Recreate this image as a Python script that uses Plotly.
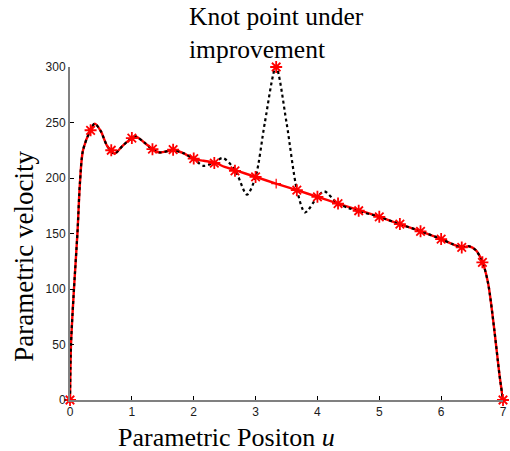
import plotly.graph_objects as go

# Dotted curve (knot point under improvement)
dot_u = [0.0, 0.016, 0.064, 0.12, 0.16, 0.21, 0.33, 0.40, 0.50, 0.60, 0.72, 0.85, 1.0, 1.06,
         1.2, 1.33, 1.45, 1.67, 1.85, 2.0, 2.16, 2.33, 2.47, 2.67, 2.86, 3.0, 3.15, 3.33, 3.5,
         3.67, 3.80, 4.0, 4.11, 4.33, 4.5, 4.67, 5.0, 5.33, 5.67, 6.0, 6.2, 6.33, 6.45, 6.56,
         6.67, 6.76, 6.86, 6.94, 7.0]
dot_v = [0, 50, 100, 150, 195, 225, 243, 249, 242, 229, 222, 229, 236, 237.5,
         232, 226, 223, 225, 222, 217, 211, 214, 218, 207, 185, 201, 250, 300, 250,
         189, 169, 183, 188, 177, 173, 170, 165, 158.5, 152, 145, 140, 137.5, 138.5, 135,
         124, 105, 63, 24, 0]

# Red improved curve
red_u = [0.0, 0.016, 0.064, 0.12, 0.16, 0.21, 0.33, 0.40, 0.50, 0.60, 0.72, 0.85, 1.0, 1.06,
         1.2, 1.33, 1.45, 1.67, 1.85, 2.0, 2.16, 2.33, 2.5, 2.67, 3.0, 3.33, 3.67, 4.0, 4.33,
         4.67, 5.0, 5.33, 5.67, 6.0, 6.2, 6.33, 6.45, 6.56, 6.67, 6.76, 6.86, 6.94, 7.0]
red_v = [0, 50, 100, 150, 195, 225, 243, 249, 242, 229, 222, 229, 236, 237.5,
         232, 226, 223, 225, 222, 217, 215.5, 214, 210, 207, 201, 195, 189, 183, 177,
         171, 165, 158.5, 152, 145, 140, 137.5, 138.5, 135, 124, 105, 63, 24, 0]

# Knot points (stars)
knot_u = [0, 0.333, 0.667, 1.0, 1.333, 1.667, 2.0, 2.333, 2.667, 3.0, 3.333, 3.667, 4.0,
          4.333, 4.667, 5.0, 5.333, 5.667, 6.0, 6.333, 6.667, 7.0]
knot_v = [0, 243, 225, 236, 226, 225.5, 217.5, 213.5, 206.5, 201, 300, 189, 183,
          177, 170.5, 165, 158.5, 152, 145, 137.5, 124, 0]
improved_u = [3.333]
improved_v = [195]

x_ticks = [0, 1, 2, 3, 4, 5, 6, 7]
y_ticks = [0, 50, 100, 150, 200, 250, 300]

RED = "#ff0000"

fig = go.Figure()
fig.add_trace(go.Scatter(x=red_u, y=red_v, mode="lines",
                         line=dict(color=RED, width=2.4, shape="spline", smoothing=0.8),
                         hoverinfo="skip", showlegend=False))
fig.add_trace(go.Scatter(x=dot_u, y=dot_v, mode="lines",
                         line=dict(color="#000000", width=2.2, dash="dot", shape="spline", smoothing=0.8),
                         hoverinfo="skip", showlegend=False))
fig.add_trace(go.Scatter(x=improved_u, y=improved_v, mode="markers",
                         marker=dict(symbol="cross-thin-open", size=7, color=RED,
                                     line=dict(color=RED, width=1.2)),
                         showlegend=False, cliponaxis=False))
fig.add_trace(go.Scatter(x=knot_u, y=knot_v, mode="markers",
                         marker=dict(symbol="asterisk-open", size=10, color=RED,
                                     line=dict(color=RED, width=1.8)),
                         showlegend=False, cliponaxis=False))

axis_common = dict(showgrid=False, zeroline=False, showline=True, linecolor="#808080",
                   linewidth=2, ticks="inside", ticklen=4, tickcolor="#000000", tickwidth=1,
                   ticklabeloverflow="allow",
                   tickfont=dict(family="Liberation Sans, Arial", size=12, color="#1a1a1a"))

fig.update_xaxes(range=[0, 7], tickvals=x_ticks, ticktext=[str(t) for t in x_ticks], **axis_common)
fig.update_yaxes(range=[0, 300], tickvals=y_ticks, ticktext=[str(t) for t in y_ticks], **axis_common)

serif = "Liberation Serif, Times New Roman, serif"
fig.update_layout(
    width=510, height=451,
    margin=dict(l=70, r=3, t=67, b=51),
    plot_bgcolor="white", paper_bgcolor="white",
    annotations=[
        dict(text="Knot point under", xref="paper", yref="paper", x=0.27, y=1.153,
             xanchor="left", yanchor="middle", showarrow=False,
             font=dict(family=serif, size=25.5, color="#000000")),
        dict(text="improvement", xref="paper", yref="paper", x=0.27, y=1.054,
             xanchor="left", yanchor="middle", showarrow=False,
             font=dict(family=serif, size=25.5, color="#000000")),
        dict(text="Parametric velocity", xref="paper", yref="paper", x=-0.105, y=0.432,
             xanchor="center", yanchor="middle", textangle=-90, showarrow=False,
             font=dict(family=serif, size=27, color="#000000")),
        dict(text="Parametric Positon <i>u</i>", xref="paper", yref="paper", x=0.361, y=-0.114,
             xanchor="center", yanchor="middle", showarrow=False,
             font=dict(family=serif, size=26, color="#000000")),
    ],
)

fig.write_html("out.html")
